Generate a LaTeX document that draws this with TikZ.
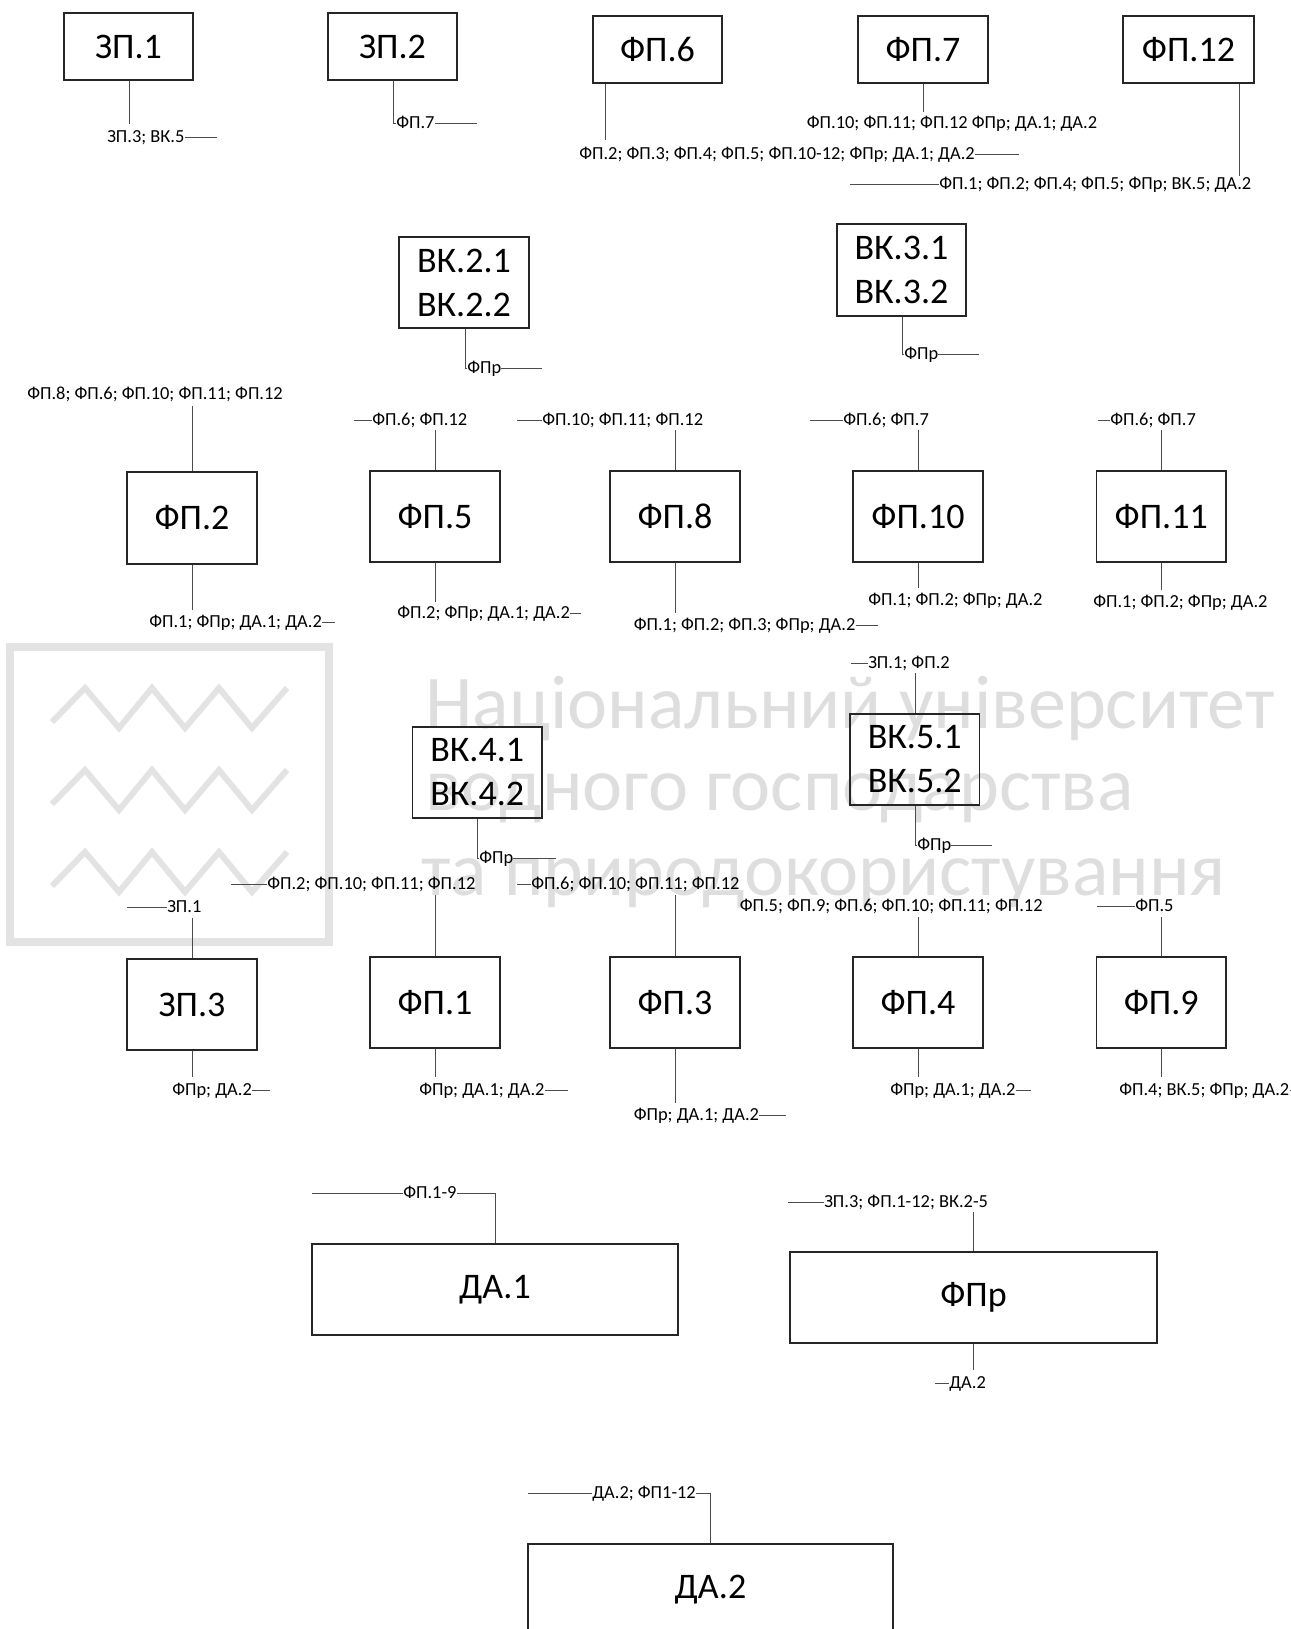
\documentclass[tikz,border=0pt]{standalone}
\usepackage{fontspec}
\setmainfont{Carlito}
\newcommand\mybox[6]{%
  \pgfmathsetmacro\mybw{(#4-#2)*0.75}\pgfmathsetmacro\mybh{(#5-#3)*0.75}%
  \node[blk, minimum width=\mybw pt, minimum height=\mybh pt] (#1) at ({(#2+#4)/2},{(#3+#5)/2}) {#6};}
\begin{document}
\begin{tikzpicture}[x=0.75pt,y=-0.75pt,
  blk/.style={draw=black!85, line width=0.8pt, inner sep=0pt, align=center, font=\fontsize{27}{33}\selectfont},
  lbl/.style={inner sep=0pt, font=\fontsize{13.8}{16}\selectfont, text height=8.9pt, text depth=0pt},
  ln/.style={draw=black!70, line width=0.75pt},
  wm/.style={text=black!13, font=\fontsize{57}{60}\selectfont, inner sep=0pt, anchor=base west},
  wml/.style={draw=black!11, line width=4.5pt}]
\useasboundingbox (0,0) rectangle (1291,1629);
% ---------- watermark ----------
\draw[wml, line width=6pt] (10,647) rectangle (329,942);
\draw[wml] (52,722) -- (85,688) -- (119,728) -- (152,688) -- (185,728) -- (219,688) -- (252,728) -- (287,688);
\draw[wml] (52,804) -- (85,770) -- (119,810) -- (152,770) -- (185,810) -- (219,770) -- (252,810) -- (287,770);
\draw[wml] (52,886) -- (85,852) -- (119,892) -- (152,852) -- (185,892) -- (219,852) -- (252,892) -- (287,852);
\node[wm] (w1) at (425,728) {Національний університет};
\node[wm] (w2) at (425,810) {водного господарства};
\node[wm] (w3) at (421,895) {та природокористування};
% ---------- row 1 ----------
\mybox{zp1}{64}{13}{193}{80}{ЗП.1}
\coordinate (c1) at (129,124);
\draw[ln] (zp1.south -| c1) -- (c1);
\node[lbl,anchor=west] (t1) at (107,137) {ЗП.3; ВК.5};
\coordinate (c1e) at (217,137);
\draw[ln] (t1.east) -- (c1e);

\mybox{zp2}{328}{13}{457}{80}{ЗП.2}
\node[lbl,anchor=west] (t2) at (396,123) {ФП.7};
\coordinate (c2) at (393,0);
\draw[ln] (zp2.south -| c2) |- (t2.west);
\coordinate (c2e) at (477,123);
\draw[ln] (t2.east) -- (c2e);

\mybox{fp6}{593}{16}{722}{83}{ФП.6}
\coordinate (c3) at (605.5,140);
\draw[ln] (fp6.south -| c3) -- (c3);
\node[lbl,anchor=west] (t3) at (579,154) {ФП.2; ФП.3; ФП.4; ФП.5; ФП.10-12; ФПр; ДА.1; ДА.2};
\coordinate (c3e) at (1019,154);
\draw[ln] (t3.east) -- (c3e);

\mybox{fp7}{858}{16}{988}{83}{ФП.7}
\coordinate (c4) at (923,112);
\draw[ln] (fp7.south -| c4) -- (c4);
\node[lbl] (t4) at (952,123) {ФП.10; ФП.11; ФП.12 ФПр; ДА.1; ДА.2};

\mybox{fp12}{1123}{16}{1254}{83}{ФП.12}
\coordinate (c5) at (1239,176);
\draw[ln] (fp12.south -| c5) -- (c5);
\node[lbl,anchor=west] (t5) at (939,184) {ФП.1; ФП.2; ФП.4; ФП.5; ФПр; ВК.5; ДА.2};
\coordinate (c5s) at (850,184);
\draw[ln] (c5s) -- (t5.west);
% ---------- row 2 ----------
\mybox{vk2}{399}{237}{529}{328}{ВК.2.1\\ВК.2.2}
\node[lbl,anchor=west] (t6) at (467,368) {ФПр};
\coordinate (c6) at (465,0);
\draw[ln] (vk2.south -| c6) |- (t6.west);
\coordinate (c6e) at (542,368);
\draw[ln] (t6.east) -- (c6e);

\mybox{vk3}{837}{224}{966}{316}{ВК.3.1\\ВК.3.2}
\node[lbl,anchor=west] (t7) at (904,354) {ФПр};
\coordinate (c7) at (902,0);
\draw[ln] (vk3.south -| c7) |- (t7.west);
\coordinate (c7e) at (979,354);
\draw[ln] (t7.east) -- (c7e);
% ---------- row 3 ----------
\mybox{fp2}{127}{472}{257}{564}{ФП.2}
\mybox{fp5}{370}{471}{500}{562}{ФП.5}
\mybox{fp8}{610}{471}{740}{562}{ФП.8}
\mybox{fp10}{853}{471}{983}{562}{ФП.10}
\mybox{fp11}{1096.5}{471}{1226}{562}{ФП.11}

\node[lbl,anchor=west] (t8) at (27,394) {ФП.8; ФП.6; ФП.10; ФП.11; ФП.12};
\coordinate (c8) at (192,406);
\draw[ln] (c8) -- (fp2.north -| c8);

\node[lbl,anchor=west] (t9) at (372,420) {ФП.6; ФП.12};
\coordinate (c9s) at (354,420); \draw[ln] (c9s) -- (t9.west);
\coordinate (c9) at (435,430); \draw[ln] (c9) -- (fp5.north -| c9);

\node[lbl,anchor=west] (t10) at (542,420) {ФП.10; ФП.11; ФП.12};
\coordinate (c10s) at (517,420); \draw[ln] (c10s) -- (t10.west);
\coordinate (c10) at (675.5,430); \draw[ln] (c10) -- (fp8.north -| c10);

\node[lbl,anchor=west] (t11) at (843,420) {ФП.6; ФП.7};
\coordinate (c11s) at (810,420); \draw[ln] (c11s) -- (t11.west);
\coordinate (c11) at (918,430); \draw[ln] (c11) -- (fp10.north -| c11);

\node[lbl,anchor=west] (t12) at (1110,420) {ФП.6; ФП.7};
\coordinate (c12s) at (1098,420); \draw[ln] (c12s) -- (t12.west);
\coordinate (c12) at (1161.5,430); \draw[ln] (c12) -- (fp11.north -| c12);

\coordinate (c13) at (192,610); \draw[ln] (fp2.south -| c13) -- (c13);
\node[lbl,anchor=west] (t13) at (149,622) {ФП.1; ФПр; ДА.1; ДА.2};
\coordinate (c13e) at (335,622); \draw[ln] (t13.east) -- (c13e);

\coordinate (c14) at (435,602); \draw[ln] (fp5.south -| c14) -- (c14);
\node[lbl,anchor=west] (t14) at (397,613) {ФП.2; ФПр; ДА.1; ДА.2};
\coordinate (c14e) at (581,613); \draw[ln] (t14.east) -- (c14e);

\coordinate (c15) at (675.5,613); \draw[ln] (fp8.south -| c15) -- (c15);
\node[lbl,anchor=west] (t15) at (633.5,625) {ФП.1; ФП.2; ФП.3; ФПр; ДА.2};
\coordinate (c15e) at (878,625); \draw[ln] (t15.east) -- (c15e);

\coordinate (c16) at (918,588); \draw[ln] (fp10.south -| c16) -- (c16);
\node[lbl,anchor=west] (t16) at (868,600) {ФП.1; ФП.2; ФПр; ДА.2};

\coordinate (c17) at (1161.5,590); \draw[ln] (fp11.south -| c17) -- (c17);
\node[lbl,anchor=west] (t17) at (1093,602) {ФП.1; ФП.2; ФПр; ДА.2};
% ---------- row 4 ----------
\mybox{vk4}{412.5}{727}{542}{818}{ВК.4.1\\ВК.4.2}
\node[lbl,anchor=west] (t19) at (479,858) {ФПр};
\coordinate (c19) at (477,0);
\draw[ln] (vk4.south -| c19) |- (t19.west);
\coordinate (c19e) at (555.5,858); \draw[ln] (t19.east) -- (c19e);

\mybox{vk5}{850}{714}{979.5}{805}{ВК.5.1\\ВК.5.2}
\node[lbl,anchor=west] (t18) at (868,663) {ЗП.1; ФП.2};
\coordinate (c18s) at (850.5,663); \draw[ln] (c18s) -- (t18.west);
\coordinate (c18) at (915,673); \draw[ln] (c18) -- (vk5.north -| c18);
\node[lbl,anchor=west] (t20) at (917,845) {ФПр};
\coordinate (c20) at (915,0);
\draw[ln] (vk5.south -| c20) |- (t20.west);
\coordinate (c20e) at (992,845); \draw[ln] (t20.east) -- (c20e);
% ---------- row 5 ----------
\mybox{zp3}{127}{959}{257}{1050}{ЗП.3}
\mybox{fp1}{370}{957}{500}{1048}{ФП.1}
\mybox{fp3}{610}{957}{740}{1048}{ФП.3}
\mybox{fp4}{853}{957}{983}{1048}{ФП.4}
\mybox{fp9}{1096.5}{957}{1226}{1048}{ФП.9}

\node[lbl,anchor=west] (t21) at (267,884) {ФП.2; ФП.10; ФП.11; ФП.12};
\coordinate (c21s) at (231,884); \draw[ln] (c21s) -- (t21.west);
\coordinate (c21) at (435,895); \draw[ln] (c21) -- (fp1.north -| c21);

\node[lbl,anchor=west] (t22) at (167,907) {ЗП.1};
\coordinate (c22s) at (127,907); \draw[ln] (c22s) -- (t22.west);
\coordinate (c22) at (192,918); \draw[ln] (c22) -- (zp3.north -| c22);

\node[lbl,anchor=west] (t23) at (531,884) {ФП.6; ФП.10; ФП.11; ФП.12};
\coordinate (c23s) at (517,884); \draw[ln] (c23s) -- (t23.west);
\coordinate (c23) at (675.5,895); \draw[ln] (c23) -- (fp3.north -| c23);

\node[lbl,anchor=west] (t24) at (739.5,906) {ФП.5; ФП.9; ФП.6; ФП.10; ФП.11; ФП.12};
\coordinate (c24) at (918,917); \draw[ln] (c24) -- (fp4.north -| c24);

\node[lbl,anchor=west] (t25) at (1135,906) {ФП.5};
\coordinate (c25s) at (1096.6,906); \draw[ln] (c25s) -- (t25.west);
\coordinate (c25) at (1161.5,917); \draw[ln] (c25) -- (fp9.north -| c25);

\coordinate (c26) at (192,1077); \draw[ln] (zp3.south -| c26) -- (c26);
\node[lbl,anchor=west] (t26) at (172,1090) {ФПр; ДА.2};
\coordinate (c26e) at (270,1090); \draw[ln] (t26.east) -- (c26e);

\coordinate (c27) at (435,1077); \draw[ln] (fp1.south -| c27) -- (c27);
\node[lbl,anchor=west] (t27) at (419,1090) {ФПр; ДА.1; ДА.2};
\coordinate (c27e) at (567.5,1090); \draw[ln] (t27.east) -- (c27e);

\coordinate (c28) at (675.5,1103); \draw[ln] (fp3.south -| c28) -- (c28);
\node[lbl,anchor=west] (t28) at (633.5,1115) {ФПр; ДА.1; ДА.2};
\coordinate (c28e) at (786,1115); \draw[ln] (t28.east) -- (c28e);

\coordinate (c29) at (918,1077); \draw[ln] (fp4.south -| c29) -- (c29);
\node[lbl,anchor=west] (t29) at (890,1090) {ФПр; ДА.1; ДА.2};
\coordinate (c29e) at (1031,1090); \draw[ln] (t29.east) -- (c29e);

\coordinate (c30) at (1161.5,1077); \draw[ln] (fp9.south -| c30) -- (c30);
\node[lbl,anchor=west] (t30) at (1119,1090) {ФП.4; ВК.5; ФПр; ДА.2};
\coordinate (c30e) at (1330,1090); \draw[ln] (t30.east) -- (c30e);
% ---------- row 6 ----------
\mybox{da1}{312}{1244}{678}{1335}{ДА.1}
\node[lbl,anchor=west] (t31) at (403,1193) {ФП.1-9};
\coordinate (c31s) at (312,1193); \draw[ln] (c31s) -- (t31.west);
\coordinate (c31) at (495,0);
\draw[ln] (t31.east) -| (da1.north -| c31);

\mybox{fpr}{790}{1252}{1157}{1343}{ФПр}
\node[lbl,anchor=west] (t32) at (824,1202) {ЗП.3; ФП.1-12; ВК.2-5};
\coordinate (c32s) at (788,1202); \draw[ln] (c32s) -- (t32.west);
\coordinate (c32) at (973,1212); \draw[ln] (c32) -- (fpr.north -| c32);
\coordinate (c33) at (973,1370); \draw[ln] (fpr.south -| c33) -- (c33);
\node[lbl,anchor=west] (t33) at (949,1383) {ДА.2};
\coordinate (c33s) at (935,1383); \draw[ln] (c33s) -- (t33.west);
% ---------- row 7 ----------
\mybox{da2}{528}{1544}{893}{1636}{ДА.2}
\node[lbl,anchor=west] (t34) at (592,1493) {ДА.2; ФП1-12};
\coordinate (c34s) at (528,1493); \draw[ln] (c34s) -- (t34.west);
\coordinate (c34) at (710,0);
\draw[ln] (t34.east) -| (da2.north -| c34);
\end{tikzpicture}
\end{document}
